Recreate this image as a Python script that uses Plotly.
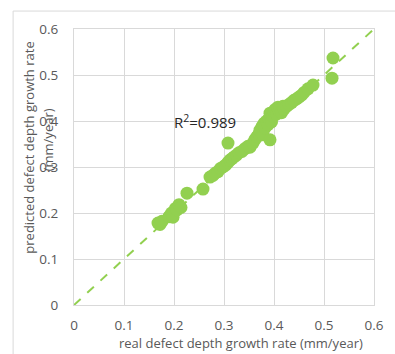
import plotly.graph_objects as go

# Real vs predicted defect depth growth rate (mm/year)
real_rate = [0.168, 0.172, 0.176, 0.190, 0.195, 0.198, 0.203, 0.206, 0.210, 0.214,
             0.226, 0.258, 0.272, 0.278, 0.283, 0.288, 0.293, 0.298, 0.303, 0.308,
             0.312, 0.316, 0.320, 0.325, 0.330, 0.336, 0.342, 0.348, 0.352, 0.358,
             0.362, 0.366, 0.370, 0.372, 0.376, 0.378, 0.380, 0.382, 0.385, 0.388,
             0.390, 0.392, 0.392, 0.395, 0.398, 0.400, 0.402, 0.405, 0.408, 0.410,
             0.412, 0.415, 0.418, 0.420, 0.425, 0.430, 0.435, 0.440, 0.445, 0.450,
             0.455, 0.460, 0.468, 0.478, 0.308, 0.516, 0.518]
predicted_rate = [0.178, 0.175, 0.182, 0.192, 0.200, 0.191, 0.210, 0.207, 0.218, 0.212,
                  0.243, 0.252, 0.278, 0.282, 0.287, 0.290, 0.297, 0.300, 0.304, 0.310,
                  0.315, 0.318, 0.322, 0.326, 0.331, 0.334, 0.340, 0.345, 0.343, 0.352,
                  0.360, 0.366, 0.372, 0.380, 0.388, 0.370, 0.395, 0.385, 0.400, 0.392,
                  0.405, 0.359, 0.417, 0.398, 0.410, 0.420, 0.425, 0.415, 0.430, 0.422,
                  0.428, 0.418, 0.432, 0.426, 0.432, 0.436, 0.440, 0.445, 0.448, 0.452,
                  0.456, 0.462, 0.470, 0.478, 0.352, 0.493, 0.537]

ticks = [0, 0.1, 0.2, 0.3, 0.4, 0.5, 0.6]
tick_labels = ["0", "0.1", "0.2", "0.3", "0.4", "0.5", "0.6"]
r2_label = "R<sup>2</sup>=0.989"

green = "#92D050"
grid = "#d9d9d9"
text_grey = "#595959"
font_family = "Open Sans, sans-serif"

fig = go.Figure()

# 1:1 reference line
fig.add_trace(go.Scatter(
    x=[0, 0.6], y=[0, 0.6], mode="lines",
    line=dict(color=green, width=2, dash="dash"),
    hoverinfo="skip", showlegend=False,
))

fig.add_trace(go.Scatter(
    x=real_rate, y=predicted_rate, mode="markers",
    marker=dict(color=green, size=13, line=dict(width=0)),
    showlegend=False,
))

axis_common = dict(
    range=[0, 0.6], tickvals=ticks, ticktext=tick_labels,
    showgrid=True, gridcolor=grid, gridwidth=1,
    zeroline=False, showline=True, linecolor=grid, linewidth=1, mirror=True,
    ticks="", tickfont=dict(family=font_family, size=13.5, color=text_grey),
    fixedrange=True,
)

fig.update_layout(
    width=395, height=354,
    margin=dict(l=74, r=21, t=29, b=49),
    paper_bgcolor="white", plot_bgcolor="white",
    font=dict(family=font_family, color=text_grey),
    xaxis=dict(**axis_common, ticklabelstandoff=8),
    yaxis=dict(**axis_common, ticklabelstandoff=12),
    shapes=[
        # outer chart frame (left and top edges)
        dict(type="line", xref="paper", yref="paper",
             x0=-0.203, x1=-0.203, y0=-0.2, y1=1.065,
             line=dict(color=grid, width=1)),
        dict(type="line", xref="paper", yref="paper",
             x0=-0.203, x1=1.1, y0=1.065, y1=1.065,
             line=dict(color=grid, width=1)),
    ],
    annotations=[
        dict(text=r2_label, x=0.262, y=0.398, xref="x", yref="y",
             showarrow=False, font=dict(family=font_family, size=15, color="#262626")),
        dict(text="real defect depth growth rate (mm/year)", xref="paper", yref="paper",
             x=0.557, y=-0.138, yanchor="middle", showarrow=False,
             font=dict(family=font_family, size=13, color=text_grey)),
        dict(text="predicted defect depth growth rate", xref="paper", yref="paper",
             x=-0.15, y=0.57, xanchor="center", yanchor="middle", textangle=-90,
             showarrow=False, font=dict(family=font_family, size=13, color=text_grey)),
        dict(text="(mm/year)", xref="paper", yref="paper",
             x=-0.087, y=0.60, xanchor="center", yanchor="middle", textangle=-90,
             showarrow=False, font=dict(family=font_family, size=13, color=text_grey)),
    ],
)

fig.write_html("out.html")
